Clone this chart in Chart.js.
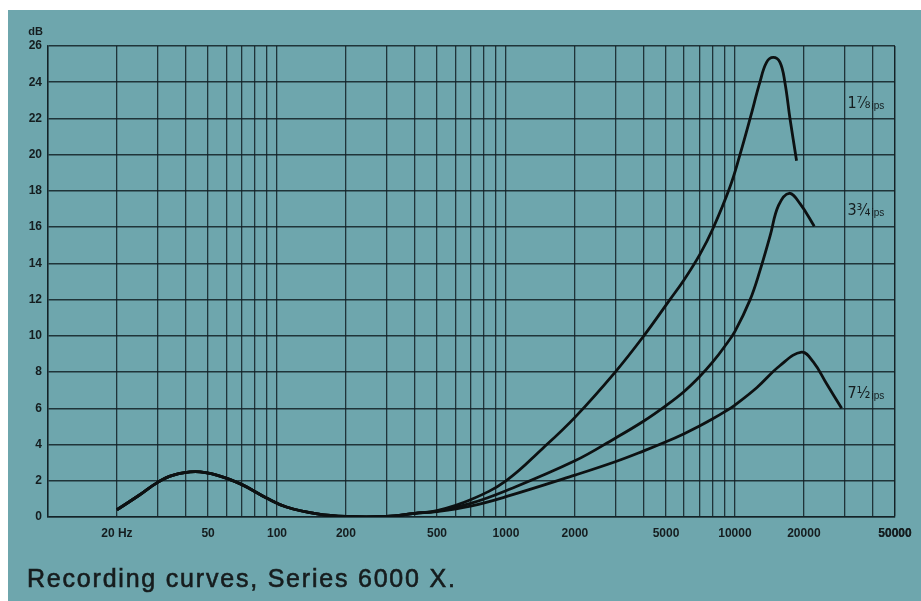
<!DOCTYPE html>
<html>
<head>
<meta charset="utf-8">
<script src="https://cdn.jsdelivr.net/npm/chart.js@4.4.0/dist/chart.umd.min.js"></script>
<style>
html, body { margin: 0; padding: 0; background: #fff; }
</style>
</head>
<body>
<canvas id="myChart" width="921" height="601"></canvas>
<script>
// low end, the same for all three speeds
var baseFreq = [20, 25, 30, 35, 44, 55, 70, 90, 110, 150, 200, 300, 400];
var baseDb   = [0.4, 1.2, 1.9, 2.3, 2.5, 2.3, 1.8, 1.05, 0.55, 0.17, 0.03, 0.03, 0.2];

// 1 7/8 ips
var freq178 = [500, 700, 1000, 1450, 2000, 3000, 4000, 5200, 6000, 7030, 8000, 9500, 10520, 11650, 12850, 13740, 14690, 15730, 16520, 17390, 18580];
var db178   = [0.35, 0.95, 2.0, 3.8, 5.5, 8, 10, 12, 13.1, 14.5, 15.9, 18.2, 20, 22, 24, 25.1, 25.37, 25.1, 24, 22, 19.67];
// 3 3/4 ips
var freq334 = [500, 700, 1000, 2000, 3000, 4000, 5000, 6000, 7000, 8000, 9000, 10000, 11650, 12860, 14230, 15500, 17260, 19240, 22200];
var db334   = [0.33, 0.75, 1.45, 3.1, 4.35, 5.3, 6.15, 6.93, 7.74, 8.56, 9.4, 10.25, 12, 13.6, 15.5, 17.2, 17.87, 17.3, 16.05];
// 7 1/2 ips
var freq712 = [500, 700, 1000, 2000, 3000, 4000, 5000, 6000, 7000, 8000, 9000, 10000, 12480, 15700, 19540, 21980, 25100, 29240];
var db712   = [0.3, 0.6, 1.12, 2.31, 3.05, 3.65, 4.15, 4.6, 5.02, 5.42, 5.8, 6.18, 7.15, 8.35, 9.1, 8.56, 7.37, 6.0];

var seriesNames = ['1\u215E', '3\u00BE', '7\u00BD'];
var labelDb = [22.8, 16.9, 6.8];
var labelFreq = 31000;

var xTickLabels = [20, 50, 100, 200, 500, 1000, 2000, 5000, 10000, 20000, 50000];
var yTicks = [0, 2, 4, 6, 8, 10, 12, 14, 16, 18, 20, 22, 24, 26];

var ink = '#151d1f';
var gridInk = 'rgba(18,32,36,0.85)';
var tickFont = { family: '"Liberation Sans", Arial, sans-serif', size: 12, weight: 'bold' };

function points(f1, d1, f2, d2) {
    var out = [];
    for (var i = 0; i < f1.length; i++) out.push({ x: f1[i], y: d1[i] });
    for (var j = 0; j < f2.length; j++) out.push({ x: f2[j], y: d2[j] });
    return out;
}

// every 1..9 x decade line of the log paper
var gridFreqs = [];
for (var dec = 10; dec <= 10000; dec *= 10) {
    for (var k = 1; k <= 9; k++) gridFreqs.push(dec * k);
}
gridFreqs.push(50000);
gridFreqs = gridFreqs.filter(function (v) { return v <= 50000; });

var paper = {
    id: 'paper',
    beforeDraw: function (chart) {
        var c = chart.ctx;
        c.save();
        c.fillStyle = '#ffffff';
        c.fillRect(0, 0, chart.width, chart.height);
        c.fillStyle = '#6ea6ad';
        c.fillRect(8, 10, chart.width - 8, chart.height - 10);
        c.restore();
    },
    afterDraw: function (chart) {
        var c = chart.ctx;
        var xs = chart.scales.x, ys = chart.scales.y;
        c.save();
        c.fillStyle = ink;
        // dB unit above the axis
        c.font = 'bold 11px "Liberation Sans", Arial, sans-serif';
        c.textAlign = 'right';
        c.textBaseline = 'middle';
        c.fillText('dB', 43, ys.getPixelForValue(26) - 14);
        // speed labels
        c.textAlign = 'left';
        for (var i = 0; i < seriesNames.length; i++) {
            var px = xs.getPixelForValue(labelFreq);
            var py = ys.getPixelForValue(labelDb[i]);
            c.font = '16px "DejaVu Sans Condensed", "Liberation Sans", sans-serif';
            c.textBaseline = 'middle';
            c.fillText(seriesNames[i], px, py);
            var w = c.measureText(seriesNames[i]).width;
            c.font = '10px "Liberation Sans", sans-serif';
            c.fillText('ips', px + w + 1, py + 2);
        }
        // caption
        var caption = 'Recording curves, Series 6000 X.';
        c.font = '25px "Liberation Sans", Arial, sans-serif';
        var natural = c.measureText(caption).width;
        c.letterSpacing = ((428 - natural) / (caption.length - 1)).toFixed(2) + 'px';
        c.textBaseline = 'alphabetic';
        c.fillStyle = '#161c1d';
        c.strokeStyle = '#161c1d';
        c.lineWidth = 0.6;
        c.fillText(caption, 27, 587);
        c.strokeText(caption, 27, 587);
        c.restore();
    }
};

function lineSet(data) {
    return {
        data: data,
        borderColor: '#0d1112',
        borderWidth: 2.8,
        pointRadius: 0,
        fill: false,
        tension: 0.4
    };
}

var ctx = document.getElementById('myChart');
var myChart = new Chart(ctx, {
    type: 'line',
    data: {
        datasets: [
            lineSet(points(baseFreq, baseDb, freq178, db178)),
            lineSet(points(baseFreq, baseDb, freq334, db334)),
            lineSet(points(baseFreq, baseDb, freq712, db712))
        ]
    },
    plugins: [paper],
    options: {
        responsive: false,
        animation: false,
        layout: { padding: { left: 8, top: 46, right: 26, bottom: 50 } },
        plugins: {
            legend: { display: false },
            tooltip: { enabled: false },
            title: { display: false }
        },
        scales: {
            x: {
                type: 'logarithmic',
                min: 10,
                max: 50000,
                afterBuildTicks: function (s) {
                    s.ticks = gridFreqs.map(function (v) { return { value: v }; });
                },
                afterFit: function (s) { s.height = 34; },
                ticks: {
                    autoSkip: false,
                    maxRotation: 0,
                    padding: 9,
                    color: ink,
                    font: tickFont,
                    callback: function (v) {
                        if (xTickLabels.indexOf(v) < 0) return '';
                        return v === 20 ? '20 Hz' : String(v);
                    }
                },
                grid: { color: gridInk, lineWidth: 1.3, drawTicks: false },
                border: { color: gridInk, width: 1.5 }
            },
            y: {
                min: 0,
                max: 26,
                afterBuildTicks: function (s) {
                    s.ticks = yTicks.map(function (v) { return { value: v }; });
                },
                afterFit: function (s) { s.width = 40; },
                ticks: { padding: 6, color: ink, font: tickFont },
                grid: { color: gridInk, lineWidth: 1.5, drawTicks: false },
                border: { color: gridInk, width: 1.5 }
            }
        }
    }
});
</script>
</body>
</html>
